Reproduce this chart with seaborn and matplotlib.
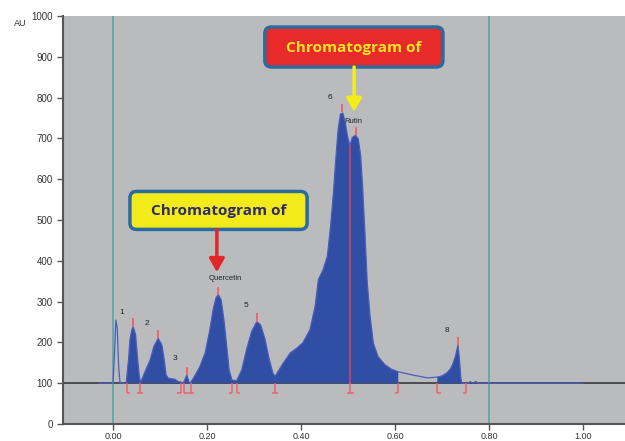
import numpy as np
import pandas as pd
import matplotlib
matplotlib.use('Agg')
import matplotlib.pyplot as plt
import seaborn as sns
from matplotlib.patches import FancyBboxPatch

# retention time (min) and absorbance
rt = [-0.030, 0.000, 0.003, 0.006, 0.009, 0.012, 0.015,
      0.028, 0.033, 0.036, 0.040, 0.043, 0.048, 0.052, 0.056, 0.059,
      0.061, 0.068, 0.079, 0.087, 0.096, 0.104, 0.109, 0.113, 0.118, 0.131, 0.139,
      0.150, 0.157, 0.162,
      0.164, 0.171, 0.185, 0.196, 0.206, 0.213, 0.219, 0.224, 0.230, 0.236, 0.242, 0.247, 0.253,
      0.263, 0.274, 0.284, 0.295, 0.306, 0.314, 0.323, 0.332, 0.340, 0.345,
      0.362, 0.377, 0.391, 0.404, 0.419, 0.430, 0.437, 0.447, 0.456, 0.463, 0.469, 0.474,
      0.479, 0.484, 0.489, 0.494, 0.499, 0.504, 0.509, 0.516, 0.522, 0.527, 0.531, 0.536,
      0.541, 0.547, 0.554, 0.564, 0.579, 0.593, 0.607,
      0.638, 0.670, 0.690, 0.700, 0.710, 0.718, 0.724, 0.729, 0.734, 0.737, 0.740, 0.742,
      0.755, 0.760, 0.765, 0.772, 0.778, 1.000]
au = [100, 100, 170, 255, 235, 140, 100,
      100, 157, 206, 231, 239, 219, 165, 116, 101,
      108, 128, 157, 190, 210, 194, 157, 120, 112, 110, 104,
      101, 120, 102,
      100, 112, 141, 174, 231, 280, 309, 317, 305, 256, 190, 133, 108,
      106, 133, 182, 227, 251, 243, 210, 161, 125, 117,
      149, 174, 186, 199, 231, 288, 354, 378, 411, 485, 567, 649,
      722, 760, 762, 739, 706, 681, 702, 708, 698, 657, 583, 469,
      346, 264, 198, 165, 145, 134, 128,
      120, 113, 115, 118, 125, 135, 150, 168, 194, 160, 115, 100,
      100, 104, 100, 104, 100, 100]

# integrated windows (filled)
fill_windows = [(0.028, 0.607), (0.690, 0.742)]

# peak apex marks
apex_rt = [0.043, 0.096, 0.157, 0.224, 0.306, 0.487, 0.516, 0.734]
apex_au = [239, 210, 120, 317, 251, 764, 708, 194]

# peak start/end marks on baseline (+1 foot right, -1 foot left, 0 both)
mark_rt = [0.029, 0.057, 0.144, 0.151, 0.165, 0.253, 0.263, 0.345, 0.505, 0.607, 0.690, 0.751]
mark_dir = [1, 0, -1, 1, 0, -1, 1, 0, 0, -1, 1, -1]

peak_labels = ['1', '2', '3', '5', '6', '8']
peak_label_x = [0.019, 0.072, 0.132, 0.283, 0.462, 0.711]
peak_label_y = [273, 246, 160, 290, 801, 228]

df = pd.DataFrame({'rt': rt, 'au': au})

sns.set_style('ticks', {'axes.facecolor': '#b9bbbd'})
plt.rcParams['font.family'] = ['Liberation Sans', 'DejaVu Sans']

fig = plt.figure(figsize=(6.25, 4.41), dpi=100)
ax = fig.add_axes([0.1008, 0.0385, 0.8992, 0.9252])

blue = '#2f4ea4'
red_mark = '#f0606e'

ax.axhline(100, color='#3a3a3a', lw=1.2, zorder=1)
ax.axvline(0.0, color='#5aa7a0', lw=1.2, zorder=1)
ax.axvline(0.8, color='#5aa7a0', lw=1.2, zorder=1)

x = np.array(rt)
mask = np.zeros(len(x), dtype=bool)
for a, b in fill_windows:
    mask |= (x >= a) & (x <= b)
ax.fill_between(rt, 100, au, where=mask, color=blue, lw=0, zorder=2)
sns.lineplot(data=df, x='rt', y='au', ax=ax, color='#4b5cbc', lw=0.9, zorder=3)

ax.vlines(0.505, 100, 684, color='#e0405a', lw=1.1, zorder=4)
ax.vlines(apex_rt, apex_au, np.array(apex_au) + 20, color=red_mark, lw=1.3, zorder=4)
for r, d in zip(mark_rt, mark_dir):
    ax.vlines(r, 76, 100, color=red_mark, lw=1.1, zorder=4)
    lo = r - 0.007 if d <= 0 else r
    hi = r + 0.007 if d >= 0 else r
    ax.hlines(76, lo, hi, color=red_mark, lw=1.1, zorder=4)

for t, lx, ly in zip(peak_labels, peak_label_x, peak_label_y):
    ax.text(lx, ly, t, fontsize=6, color='#222222', ha='center', va='center', zorder=5)
ax.text(0.238, 356, 'Quercetin', fontsize=5.5, color='#222222', ha='center', va='center', zorder=5)
ax.text(0.512, 742, 'Rutin', fontsize=5.5, color='#222222', ha='center', va='center', zorder=5)

# callout boxes
asp = (1 / 0.407) / (1 / 470)
ax.add_patch(FancyBboxPatch((0.036, 477), 0.377, 93, boxstyle='round,pad=0,rounding_size=0.014',
                            mutation_aspect=asp, fc='#f3ea1c', ec='#2c6aa0', lw=2.5, zorder=6))
ax.text(0.2245, 522, 'Chromatogram of', fontsize=11, fontweight='bold', color='#2d2b6b',
        family='Open Sans', ha='center', va='center', zorder=7)
ax.annotate('', xy=(0.221, 372), xytext=(0.221, 477),
            arrowprops=dict(arrowstyle='-|>,head_width=0.45,head_length=0.8', color='#e02828',
                            lw=2.5, shrinkA=0, shrinkB=0), zorder=6)

ax.add_patch(FancyBboxPatch((0.323, 875), 0.379, 98, boxstyle='round,pad=0,rounding_size=0.014',
                            mutation_aspect=asp, fc='#e82a2a', ec='#2c6aa0', lw=2.5, zorder=6))
ax.text(0.5125, 922, 'Chromatogram of', fontsize=11, fontweight='bold', color='#f3e622',
        family='Open Sans', ha='center', va='center', zorder=7)
ax.annotate('', xy=(0.513, 765), xytext=(0.513, 875),
            arrowprops=dict(arrowstyle='-|>,head_width=0.45,head_length=0.8', color='#f3ee1a',
                            lw=2.5, shrinkA=0, shrinkB=0), zorder=6)

ax.set_xlim(-0.1064, 1.0894)
ax.set_ylim(0, 1000)
ax.set_xticks([0.0, 0.2, 0.4, 0.6, 0.8, 1.0])
ax.set_xticklabels(['0.00', '0.20', '0.40', '0.60', '0.80', '1.00'])
ax.set_yticks(range(0, 1001, 100))
ax.set_xlabel('')
ax.set_ylabel('')
ax.tick_params(direction='out', length=4, width=1, color='#555555', labelsize=7, labelcolor='#333333')
ax.tick_params(axis='x', pad=1.5, labelsize=6.5)
for s in ['top', 'right']:
    ax.spines[s].set_visible(False)
for s in ['left', 'bottom']:
    ax.spines[s].set_color('#555555')
    ax.spines[s].set_linewidth(1.5)
fig.text(20 / 625, 1 - 24 / 441, 'AU', fontsize=6.5, color='#333333', ha='center', va='center')

fig.savefig('out.png', dpi=100)
